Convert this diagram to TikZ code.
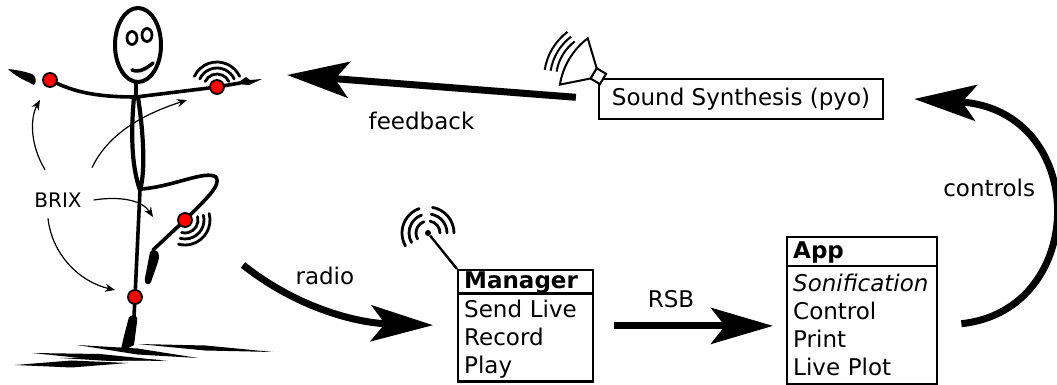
\documentclass[tikz,border=0pt]{standalone}
\usepackage{fontspec}
\setmainfont{DejaVu Sans}
\usetikzlibrary{positioning, arrows.meta, shapes.multipart, calc}

\begin{document}
\begin{tikzpicture}[
  x=0.5pt, y=-0.5pt,
  every node/.style={font=\fontsize{11.5}{14}\selectfont},
  block/.style={draw, rectangle, line width=1.2pt, minimum width=142pt, minimum height=20pt, inner sep=0pt},
  classbox/.style={draw, line width=1.2pt, rectangle split, rectangle split parts=2, align=left, inner xsep=3pt, inner ysep=0.25pt, anchor=north west},
  sensor/.style={circle, draw, fill=red, line width=0.9pt, inner sep=0pt, minimum size=7pt},
  body/.style={line width=1.8pt, line cap=round, line join=round},
  wave/.style={line width=1.4pt, line cap=round},
  bigarrow/.style={-{Stealth[length=31pt, width=18pt, inset=7pt]}, line width=3.5pt},
  thinarrow/.style={-{Stealth[length=5pt, width=4pt]}, line width=0.6pt}
]
  \useasboundingbox (0,0) rectangle (1057,385);

  % dancer
  \draw[body, line width=2pt] (138,45) ellipse [x radius=23, y radius=37];
  \draw[body, line width=1.4pt] (132,38) ellipse [x radius=5, y radius=6.5];
  \draw[body, line width=1.4pt] (147,35) ellipse [x radius=5, y radius=6.5];
  \draw[body] (132,70) .. controls (140,73) and (147,68) .. (153,63);
  \draw[body] (136,82) -- (136,97);
  \draw[body, line width=2.1pt] (134,97) .. controls (131,130) and (131,165) .. (140,190)
    .. controls (146,170) and (143,130) .. (138,97) -- cycle;
  \draw[body] (50,80) .. controls (70,90) and (90,97) .. (136,97) -- (217,87) -- (240,83);
  \draw[body] (140,190) -- (135,297) -- (134,316);
  \draw[body] (142,189) .. controls (175,186) and (205,170) .. (216,177)
    .. controls (222,185) and (205,200) .. (185,220) -- (153,250);
  % hands and feet
  \fill (8,69) .. controls (18,70) and (26,72) .. (32,74) .. controls (36,76) and (37,82) .. (34,85)
    .. controls (30,83) and (27,81) .. (24,80) .. controls (18,77) and (12,73) .. cycle;
  \fill (236,84) -- (246,77) -- (250,80) -- (262,79) -- (249,85) -- cycle;
  \fill (150,252) .. controls (156,247) and (161,252) .. (158,262) -- (151,282)
    .. controls (149,286) and (144,285) .. (145,278) -- cycle;
  \fill (129,317) .. controls (134,313) and (139,316) .. (137,322) -- (134,345)
    .. controls (128,349) and (122,350) .. (121,349) -- (124,336) -- cycle;
  % shadow on the floor
  \foreach \ax/\ay/\bx/\by/\t in {77/345/198/358/6, 138/344/273/352/5, 32/353/168/361/6,
                                  15/365/128/363/7, 60/358/160/360/4}
    \fill (\ax,\ay) -- ({(\ax+\bx)/2},{(\ay+\by)/2-\t/2}) -- (\bx,\by)
      -- ({(\ax+\bx)/2},{(\ay+\by)/2+\t/2}) -- cycle;

  % sensors
  \node[sensor] (armL)  at (50,80)   {};
  \node[sensor] (armR)  at (217,87)  {};
  \node[sensor] (knee)  at (185,220) {};
  \node[sensor] (ankle) at (135,297) {};
  \foreach \r in {13,19,25}
    \draw[wave] (armR.center) ++(205:\r) arc[start angle=205, end angle=335, radius=\r];
  \foreach \r in {13,19,25}
    \draw[wave] (knee.center) ++(-15:\r) arc[start angle=-15, end angle=105, radius=\r];

  \node[font=\fontsize{10}{12}\selectfont] (brix) at (58,200) {BRIX};
  \coordinate (toArmL)  at (40,100);
  \coordinate (toArmR)  at (187,100);
  \coordinate (toKnee)  at (153,217);
  \coordinate (toAnkle) at (115,290);
  \draw[thinarrow] ([xshift=-6.5pt,yshift=8pt]brix.north) .. controls (30,145) and (30,118) .. (toArmL);
  \draw[thinarrow] ([xshift=17pt,yshift=9pt]brix.north) .. controls (110,130) and (150,112) .. (toArmR);
  \draw[thinarrow] ([xshift=2.5pt]brix.east) .. controls (120,196) and (142,200) .. (toKnee);
  \draw[thinarrow] ([xshift=-5pt,yshift=-2pt]brix.south) .. controls (52,255) and (80,282) .. (toAnkle);

  % software side
  \node[block] (synth) at (741,99) {Sound Synthesis (pyo)};
  \node[classbox, text width=61.5pt] (manager) at (457,269)
    {\raisebox{0pt}[8.4pt][1.6pt]{\textbf{Manager}}\nodepart{two}\rule{0pt}{11pt}Send Live\\Record\\Play\rule[-3.3pt]{0pt}{3.3pt}};
  \node[classbox, text width=69pt] (app) at (786,236)
    {\raisebox{0pt}[9.8pt][3pt]{\textbf{App}}\nodepart{two}\rule{0pt}{12pt}\textit{Sonification}\\Control\\Print\\Live Plot\rule[-3.3pt]{0pt}{3.3pt}};

  % antenna
  \node[circle, fill, inner sep=0pt, minimum size=3pt] (aerial) at (428,233) {};
  \draw[line width=1.2pt] (aerial) -- (manager.north west);
  \foreach \r in {12,19,26} {
    \draw[wave] (aerial.center) ++(150:\r) arc[start angle=150, end angle=250, radius=\r];
    \draw[wave] (aerial.center) ++(280:\r) arc[start angle=280, end angle=360, radius=\r];
  }

  % loudspeaker
  \begin{scope}[shift={(603,79)}, rotate=-31]
    \draw[line width=1pt, fill=white] (0,-6) rectangle (-11,6);
    \draw[line width=1pt, fill=white] (-11,-6) -- (-34,-27) .. controls (-41,-10) and (-41,10) .. (-34,27) -- (-11,6) -- cycle;
    \foreach \r in {47,53,59}
      \draw[line width=1pt] (158:\r) arc[start angle=158, end angle=202, radius=\r];
  \end{scope}

  \coordinate (toHand)   at (287,75);
  \coordinate (fromKnee) at (243,265);
  \draw[bigarrow, shorten <=11pt] (synth.west) -- (toHand)
    node[pos=0.567, below=8pt] {feedback};
  \draw[bigarrow, shorten >=12pt] (fromKnee) .. controls (300,310) and (360,323) .. (manager.west)
    node[pos=0.45, above=6.5pt] {radio};
  \draw[bigarrow, shorten <=10pt, shorten >=6.5pt] (manager.east) -- (manager.east -| app.west)
    node[pos=0.4, above=4pt] {RSB};
  \draw[bigarrow] ([xshift=11.5pt,yshift=-6.5pt]app.east) .. controls (1090,310) and (1090,110) .. ([xshift=15pt]synth.east)
    node[pos=0.57, left=1pt] {controls};
\end{tikzpicture}
\end{document}
